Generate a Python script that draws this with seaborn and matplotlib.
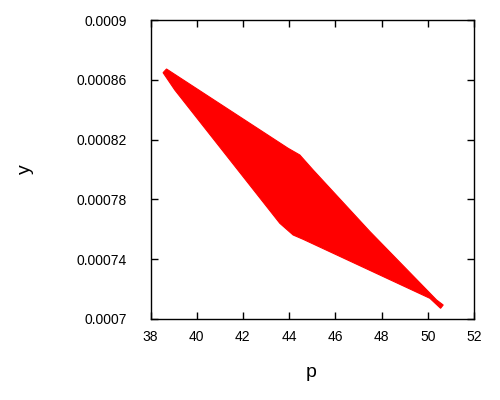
import matplotlib
matplotlib.use("Agg")
import matplotlib.pyplot as plt
import seaborn as sns
import pandas as pd

# Boundary of the red region (clockwise, starting at upper-left tip)
p_vals = [38.545, 38.693, 43.957, 44.463, 45.039, 47.494, 50.381, 50.667, 50.554,
          50.091, 44.606, 44.173, 43.597, 39.052]
y_vals = [0.00086475, 0.00086723, 0.00081418, 0.00080970, 0.00079967, 0.00075853,
          0.00071271, 0.00070936, 0.00070716, 0.00071385, 0.00075331, 0.00075619,
          0.00076401, 0.00085318]

x_ticks = [38, 40, 42, 44, 46, 48, 50, 52]
y_ticks = [0.0007, 0.00074, 0.00078, 0.00082, 0.00086, 0.0009]
y_tick_labels = ["0.0007", "0.00074", "0.00078", "0.00082", "0.00086", "0.0009"]

df = pd.DataFrame({"p": p_vals, "y": y_vals})

sns.set_theme(style="white")
plt.rcParams["font.family"] = ["Liberation Sans", "DejaVu Sans"]

fig = plt.figure(figsize=(5, 4), dpi=100)
ax = fig.add_axes([0.301, 0.2025, 0.647, 0.7475])

ax.fill(df["p"], df["y"], color="#ff0000", linewidth=0.8, edgecolor="#ff0000")

ax.set_xlim(38, 52)
ax.set_ylim(0.0007, 0.0009)
ax.set_xticks(x_ticks)
ax.set_xticklabels([str(t) for t in x_ticks])
ax.set_yticks(y_ticks)
ax.set_yticklabels(y_tick_labels)

for s in ax.spines.values():
    s.set_color("black")
    s.set_linewidth(1.0)

ax.tick_params(axis="both", direction="in", length=5, width=1, color="black",
               labelsize=10, labelcolor="black", top=True, right=True,
               bottom=True, left=True)
ax.tick_params(axis="x", pad=8)
ax.tick_params(axis="y", pad=17)

ax.set_xlabel("p", fontsize=14, color="black")
ax.set_ylabel("y", fontsize=14, color="black")
ax.xaxis.set_label_coords(0.497, -0.15)
ax.yaxis.set_label_coords(-0.36, 0.5)

fig.savefig("out.png", dpi=100, facecolor="white")
